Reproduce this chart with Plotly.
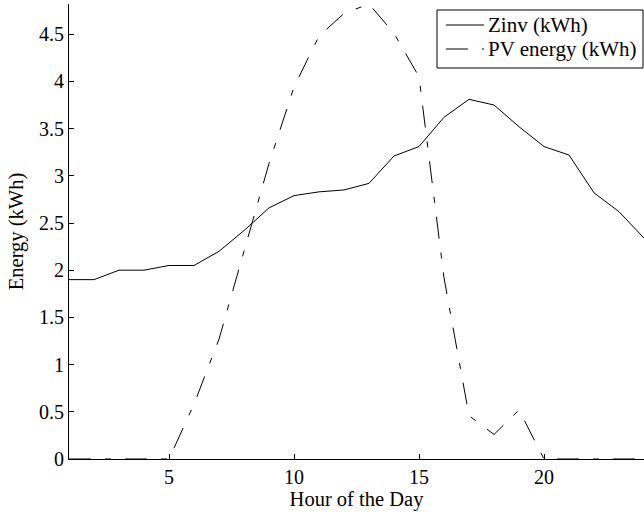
import plotly.graph_objects as go

hours = list(range(1, 25))
zinv = [1.90, 1.90, 2.00, 2.00, 2.05, 2.05, 2.20, 2.42, 2.66, 2.79, 2.83, 2.85,
        2.92, 3.21, 3.31, 3.62, 3.81, 3.75, 3.52, 3.31, 3.22, 2.82, 2.62, 2.34]
pv = [0, 0, 0, 0, 0, 0.58, 1.27, 2.20, 3.13, 3.94, 4.48, 4.72,
      4.82, 4.51, 4.05, 1.92, 0.46, 0.26, 0.52, 0, 0, 0, 0, 0]
series_names = ["Zinv (kWh)", "PV energy (kWh)"]
y_ticks = [0, 0.5, 1, 1.5, 2, 2.5, 3, 3.5, 4, 4.5]
x_ticks = [5, 10, 15, 20]

FONT = "Liberation Serif, Times New Roman, serif"
DASHDOT = "22px,14px,6px,14px"
styles = [dict(color="black", width=1), dict(color="black", width=1, dash=DASHDOT)]

fig = go.Figure()
for name, vals, st in zip(series_names, [zinv, pv], styles):
    fig.add_trace(go.Scatter(x=hours, y=vals, mode="lines", name=name,
                             line=st, showlegend=False))

# legend drawn as a boxed key in paper coordinates (MATLAB-style)
L, PW, T, PH = 69, 575, 4, 455
def px(x):
    return (x - L) / PW
def py(y):
    return (T + PH - y) / PH

shapes = [dict(type="rect", xref="paper", yref="paper",
               x0=px(437), x1=px(643), y0=py(68), y1=py(10),
               line=dict(color="black", width=1), fillcolor="white", layer="above")]
annotations = []
for i, (name, st) in enumerate(zip(series_names, styles)):
    yy = 25 + 24 * i
    shapes.append(dict(type="line", xref="paper", yref="paper",
                       x0=px(446), x1=px(484), y0=py(yy), y1=py(yy),
                       line=st, layer="above"))
    annotations.append(dict(text=name, xref="paper", yref="paper",
                            x=px(486), y=py(yy), xanchor="left", yanchor="middle",
                            showarrow=False,
                            font=dict(family=FONT, size=21, color="black")))

fig.update_layout(
    width=644, height=512,
    margin=dict(l=L, r=0, t=T, b=512 - T - PH),
    paper_bgcolor="white", plot_bgcolor="white",
    font=dict(family=FONT, size=20, color="black"),
    shapes=shapes, annotations=annotations,
    xaxis=dict(range=[1, 24], tickvals=x_ticks, ticks="inside", ticklen=5,
               tickcolor="black", showline=True, linecolor="black", linewidth=1,
               showgrid=False, zeroline=False, mirror=False,
               title=dict(text="Hour of the Day", standoff=2,
                          font=dict(family=FONT, size=20.5, color="black"))),
    yaxis=dict(range=[0, 4.82], tickvals=y_ticks, ticks="inside", ticklen=5,
               tickcolor="black", showline=True, linecolor="black", linewidth=1,
               showgrid=False, zeroline=False, mirror=False,
               title=dict(text="Energy (kWh)", standoff=9,
                          font=dict(family=FONT, size=20.5, color="black"))),
)

fig.write_html("out.html")
